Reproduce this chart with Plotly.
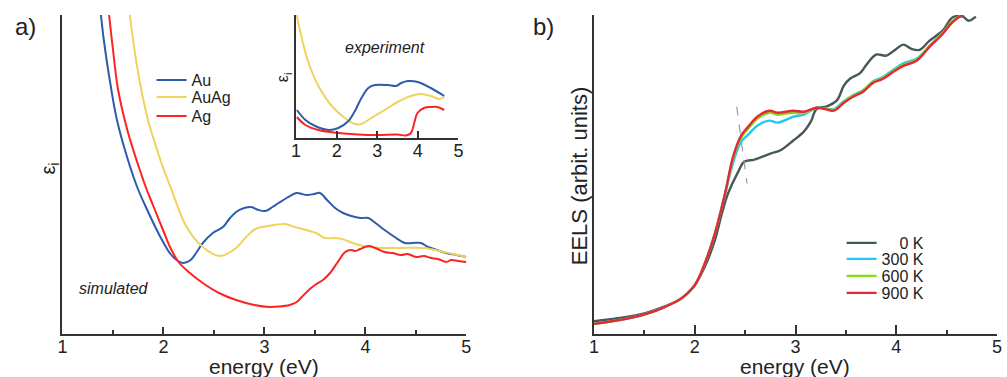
import plotly.graph_objects as go

W, H = 1007, 377

# ---------------- Panel a: simulated eps_i (arbitrary units) ----------------
au_e = [1.37, 1.41, 1.48, 1.54, 1.64, 1.74, 1.84, 1.97, 2.07, 2.13, 2.20, 2.27, 2.33, 2.39, 2.49, 2.59,
        2.66, 2.72, 2.80, 2.87, 2.94, 3.01, 3.08, 3.14, 3.22, 3.32, 3.37, 3.42, 3.49, 3.55, 3.62, 3.70,
        3.78, 3.86, 3.95, 4.03, 4.10, 4.19, 4.29, 4.39, 4.47, 4.55, 4.62, 4.68, 4.80, 4.90, 5.0]
au_v = [330, 294, 247, 214, 177, 147, 124, 97, 80, 74, 71, 74, 82, 91, 101, 107,
        116, 122, 126, 127, 124, 123, 127, 131, 136, 141, 140, 139, 140, 141, 134, 126,
        121, 118, 116, 116, 111, 104, 97, 91, 91, 91, 87, 85, 81, 79, 77]

auag_e = [1.66, 1.74, 1.84, 1.97, 2.02, 2.07, 2.23, 2.39, 2.56, 2.72, 2.81, 2.91, 3.04, 3.20, 3.30, 3.51,
          3.60, 3.70, 3.77, 3.90, 4.03, 4.19, 4.35, 4.58, 4.78, 5.0]
auag_v = [325, 267, 217, 174, 160, 147, 107, 87, 78, 86, 96, 105, 108, 110, 107, 101,
          96, 96, 95, 90, 87, 86, 86, 86, 82, 77]

ag_e = [1.45, 1.50, 1.55, 1.64, 1.74, 1.84, 1.90, 2.00, 2.07, 2.15, 2.25, 2.39, 2.55, 2.72, 2.90, 3.05,
        3.15, 3.25, 3.32, 3.37, 3.45, 3.50, 3.58, 3.65, 3.72, 3.80, 3.86, 3.90, 3.95, 4.03, 4.10, 4.19,
        4.27, 4.35, 4.42, 4.50, 4.58, 4.65, 4.72, 4.80, 4.85, 4.92, 5.0]
ag_v = [330, 285, 245, 205, 172, 143, 128, 103, 86, 72, 62, 51, 41, 34, 29, 27,
        27.5, 29, 32, 37, 45, 49, 54, 61, 71, 82, 84, 83, 85, 88, 86, 82,
        81, 79, 80, 77, 78, 76, 75, 72, 74, 73, 72]

# ---------------- Inset: experiment ----------------
in_auag_e = [1.0, 1.15, 1.31, 1.55, 1.88, 2.20, 2.45, 2.61, 2.85, 3.18, 3.50, 3.83, 4.07, 4.32, 4.52, 4.65]
in_auag_v = [126, 98, 75, 52, 32, 20, 14, 14, 20, 28, 36, 42, 44, 42, 39, 41]
in_au_e = [1.02, 1.23, 1.47, 1.80, 2.04, 2.29, 2.45, 2.61, 2.78, 2.94, 3.26, 3.46, 3.59, 3.75, 4.0, 4.32, 4.65]
in_au_v = [28, 18, 12, 8, 10, 17, 27, 40, 50, 53, 53, 52, 55, 57, 56, 50, 42]
in_ag_e = [1.02, 1.23, 1.55, 2.04, 2.52, 3.01, 3.50, 3.71, 3.83, 3.91, 3.99, 4.15, 4.32, 4.48, 4.65]
in_ag_v = [21, 13, 8, 5, 3.5, 3, 3.5, 2.5, 5, 15, 25, 30, 31, 31, 28]

# ---------------- Panel b: EELS ----------------
k0_e = [0.99, 1.25, 1.51, 1.70, 1.87, 2.0, 2.10, 2.20, 2.26, 2.33, 2.43, 2.49, 2.59, 2.75, 2.85, 2.98,
        3.08, 3.15, 3.21, 3.31, 3.41, 3.48, 3.54, 3.64, 3.71, 3.80, 3.90, 4.0, 4.07, 4.15, 4.23, 4.33,
        4.46, 4.56, 4.66, 4.72, 4.79]
k0_v = [12.7, 16, 21, 27.7, 36, 49.3, 67.7, 94.3, 117.7, 141, 162.7, 172.7, 175, 181, 184.3, 194.3,
        202.7, 212.7, 226, 228.3, 234.3, 249.3, 256, 261.7, 271, 280.3, 279.3, 286, 290.3, 286, 285, 294.3,
        304.3, 317.7, 318.3, 314.3, 318.3]

hot_e = [0.99, 1.25, 1.51, 1.70, 1.87, 2.0, 2.10, 2.20, 2.30, 2.38, 2.46, 2.53, 2.62, 2.74, 2.82, 2.98,
         3.08, 3.21, 3.28, 3.38, 3.48, 3.57, 3.67, 3.77, 3.87, 3.97, 4.07, 4.20, 4.33, 4.46, 4.56, 4.67]
k900_v = [10, 14, 20, 27, 36, 49, 71, 101, 141, 178, 199, 208, 218, 224, 222, 224,
          223, 227, 226, 224, 232, 238, 243, 252, 256, 263, 269, 274, 288, 301, 313, 321]
k600_v = [10, 14, 20, 27, 36, 49, 71, 101, 141, 176, 197, 206, 216, 222, 220, 222,
          221.5, 227, 226.5, 225, 233, 239, 244, 253, 257, 264, 270, 275, 289, 302, 314, 321]
k300_v = [10, 14, 20, 27, 36, 49, 71, 101, 140, 172, 193, 200, 209, 214, 212, 218,
          220, 227, 226.5, 225.5, 233.5, 239.5, 244.5, 253.5, 258, 265, 271.5, 276, 289, 302, 313.5, 321]

guide_e = [2.416, 2.518]
guide_v = [228, 151]

fig = go.Figure()

FONT = "Liberation Sans, Arial, Helvetica, sans-serif"
TXT = "#222222"
AX = "#333333"


def add(x, y, color, name, xa, ya, legend=None, width=2.0, dash=None, shape="spline"):
    fig.add_trace(go.Scatter(
        x=x, y=y, mode="lines", name=name,
        line=dict(color=color, width=width, shape=shape, dash=dash),
        xaxis=xa, yaxis=ya, showlegend=legend is not None,
        legend=legend if legend else "legend", hoverinfo="skip"))


# panel a
add(au_e, au_v, "#2c5cab", "Au", "x", "y", legend="legend")
add(auag_e, auag_v, "#eed35c", "AuAg", "x", "y", legend="legend2")
add(ag_e, ag_v, "#ff2222", "Ag", "x", "y", legend="legend3")
# inset
add(in_auag_e, in_auag_v, "#eed35c", "AuAg", "x2", "y2")
add(in_au_e, in_au_v, "#2c5cab", "Au", "x2", "y2")
add(in_ag_e, in_ag_v, "#ff2222", "Ag", "x2", "y2")
# panel b
add(k0_e, k0_v, "#475858", "\u2007\u20070 K", "x3", "y3", legend="legend4", width=2.4)
add(hot_e, k300_v, "#1ec8f8", "300 K", "x3", "y3", legend="legend5", width=2.4)
add(hot_e, k600_v, "#82dc14", "600 K", "x3", "y3", legend="legend6", width=2.4)
add(hot_e, k900_v, "#e4283c", "900 K", "x3", "y3", legend="legend7", width=2.4)
add(guide_e, guide_v, "#9a9a9a", "guide", "x3", "y3", width=1.2, dash="dash", shape="linear")

ybot = 1 - 334 / H
ytop = 1 - 15 / H

xcommon = dict(range=[1, 5], showline=True, linecolor=AX, linewidth=2, showgrid=False, zeroline=False,
               ticks="inside", tickcolor=AX, tickwidth=1.5, tickvals=[1, 2, 3, 4, 5],
               ticklabelstandoff=-5,
               tickfont=dict(family=FONT, size=18, color=TXT), fixedrange=True)
ycommon = dict(showline=True, linecolor=AX, linewidth=2, showgrid=False, zeroline=False,
               showticklabels=False, ticks="", fixedrange=True)

fig.update_layout(
    width=W, height=H, autosize=False,
    margin=dict(l=0, r=0, t=0, b=0),
    paper_bgcolor="white", plot_bgcolor="rgba(0,0,0,0)",
    font=dict(family=FONT, color=TXT),
    xaxis=dict(domain=[58 / W, 466 / W], anchor="y", ticklen=7,
               minor=dict(ticks="inside", ticklen=4, tickcolor=AX, dtick=0.5, tickwidth=1.5), **xcommon),
    yaxis=dict(domain=[ybot, ytop], anchor="x", range=[0, 319], **ycommon),
    xaxis2=dict(domain=[294 / W, 458 / W], anchor="y2", ticklen=7, **xcommon),
    yaxis2=dict(domain=[1 - 138 / H, ytop], anchor="x2", range=[0, 123], **ycommon),
    xaxis3=dict(domain=[595 / W, 1002 / W], anchor="y3", ticklen=9,
                minor=dict(ticks="inside", ticklen=4, tickcolor=AX, dtick=0.5, tickwidth=1.5), **xcommon),
    yaxis3=dict(domain=[ybot, ytop], anchor="x3", range=[0, 320], **ycommon),
)

leg_font = dict(family=FONT, size=16, color=TXT)


def legend_at(px, py):
    return dict(x=px / W, y=1 - py / H, xanchor="left", yanchor="middle", bgcolor="rgba(0,0,0,0)",
                borderwidth=0, font=leg_font, itemwidth=30, tracegroupgap=0)


fig.update_layout(
    legend=legend_at(148, 80), legend2=legend_at(148, 97), legend3=legend_at(148, 116),
    legend4=legend_at(845, 243), legend5=legend_at(845, 259), legend6=legend_at(845, 276),
    legend7=legend_at(845, 293),
)


def note(px, py, text, size, italic=False, angle=0):
    fig.add_annotation(x=px / W, y=1 - py / H, xref="paper", yref="paper", text=text, showarrow=False,
                       xanchor="center", yanchor="middle", textangle=angle,
                       font=dict(family=FONT, size=size, color=TXT, style="italic" if italic else "normal"))


note(21, 27, "a)", 24)
note(544, 27, "b)", 24)
note(44, 169, "ε<sub>i</sub>", 20, angle=-90)
note(281, 77, "ε<sub>i</sub>", 16, angle=-90)
note(110, 288, "simulated", 16, italic=True)
note(384, 47, "experiment", 16, italic=True)
note(262, 366, "energy (eV)", 21)
note(798, 366, "energy (eV)", 21)
note(580, 176, "EELS (arbit. units)", 22, angle=-90)

fig.write_html("out.html", config={"displayModeBar": False},
               post_script="document.body.style.margin='0';")
